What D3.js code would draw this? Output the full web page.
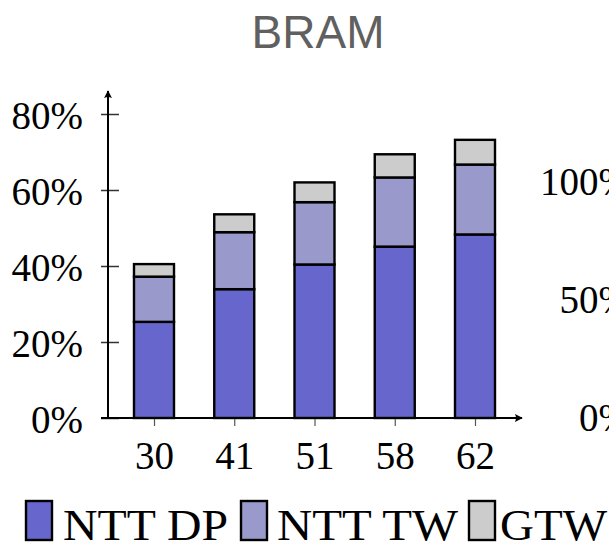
<!DOCTYPE html>
<html>
<head>
<meta charset="utf-8">
<script src="https://cdn.jsdelivr.net/npm/d3@7"></script>
<style>
  html, body { margin: 0; padding: 0; background: #fff; }
  svg { display: block; }
</style>
</head>
<body>
<svg id="chart" width="609" height="543"></svg>
<script>
// Bitwidth categories along the x axis
const categories = ["30", "41", "51", "58", "62"];
// BRAM utilisation (%) per component, stacked bottom to top
const nttDP = [25.3, 33.9, 40.4, 45.1, 48.3];
const nttTW = [11.9, 15.0, 16.4, 18.2, 18.4];
const gtw   = [3.3, 4.7, 5.2, 6.1, 6.5];
const seriesNames = ["NTT DP", "NTT TW", "GTW"];
const yTicks = [0, 20, 40, 60, 80];
// Labels of the neighbouring panel's axis, partly outside the page
const sideTicks = ["100%", "50%", "0%"];

const colors = ["#6666cc", "#9999cc", "#cccccc"];
const serifFont = '"Liberation Serif"';

const svg = d3.select("#chart");

const y = d3.scaleLinear().domain([0, 80]).range([418, 114]);
const x = d3.scalePoint().domain(categories).range([154, 475]);
const barW = 40;

const rows = categories.map((c, i) => ({ cat: c, "NTT DP": nttDP[i], "NTT TW": nttTW[i], "GTW": gtw[i] }));
const stacked = d3.stack().keys(seriesNames)(rows);

// Title
svg.append("text")
  .attr("x", 318).attr("y", 48)
  .attr("text-anchor", "middle")
  .style("font-family", '"Liberation Sans"')
  .style("font-size", "46px")
  .attr("fill", "#606060")
  .text("BRAM");

// Arrow marker
const defs = svg.append("defs");
defs.append("marker")
  .attr("id", "arrow")
  .attr("viewBox", "0 0 10 10")
  .attr("refX", 9).attr("refY", 5)
  .attr("markerWidth", 8).attr("markerHeight", 8)
  .attr("markerUnits", "userSpaceOnUse")
  .attr("orient", "auto")
  .append("path")
  .attr("d", "M0,0 Q3,5 0,10 L10,5 Z")
  .attr("fill", "#000");

// Bars
svg.append("g").selectAll("g")
  .data(stacked)
  .join("g")
  .attr("fill", (d, i) => colors[i])
  .selectAll("rect")
  .data(d => d)
  .join("rect")
  .attr("x", d => x(d.data.cat) - barW / 2)
  .attr("y", d => y(d[1]))
  .attr("width", barW)
  .attr("height", d => y(d[0]) - y(d[1]))
  .attr("stroke", "#000")
  .attr("stroke-width", 2.4);

// Y axis
const yAxis = d3.axisLeft(y)
  .tickValues(yTicks)
  .tickFormat(d => d + "%")
  .tickSizeInner(0)
  .tickSizeOuter(0)
  .tickPadding(0);

const gy = svg.append("g").attr("transform", "translate(108,0)").call(yAxis);
gy.select(".domain").remove();
gy.selectAll(".tick line")
  .attr("x1", -7).attr("x2", 11)
  .attr("stroke", "#333").attr("stroke-width", 1.5);
gy.selectAll(".tick text")
  .attr("x", -25)
  .attr("dy", "0.36em")
  .style("font-family", serifFont)
  .style("font-size", "39px")
  .attr("fill", "#000");

svg.append("line")
  .attr("x1", 108).attr("x2", 108)
  .attr("y1", 419).attr("y2", 91)
  .attr("stroke", "#000").attr("stroke-width", 2)
  .attr("marker-end", "url(#arrow)");

// X axis
const xAxis = d3.axisBottom(x).tickSizeInner(8).tickSizeOuter(0).tickPadding(4);
const gx = svg.append("g").attr("transform", "translate(0,418)").call(xAxis);
gx.select(".domain").remove();
gx.selectAll(".tick line").attr("stroke", "#555").attr("stroke-width", 1.2);
gx.selectAll(".tick text")
  .attr("y", 51)
  .attr("dy", 0)
  .style("font-family", serifFont)
  .style("font-size", "39px")
  .attr("fill", "#000");

svg.append("line")
  .attr("x1", 101).attr("x2", 522)
  .attr("y1", 418).attr("y2", 418)
  .attr("stroke", "#000").attr("stroke-width", 2)
  .attr("marker-end", "url(#arrow)");

// Neighbouring axis labels on the right edge
const sideY = d3.scalePoint().domain(sideTicks).range([195, 431]);
svg.append("g").selectAll("text")
  .data(sideTicks)
  .join("text")
  .attr("x", 631)
  .attr("y", d => sideY(d))
  .attr("text-anchor", "end")
  .style("font-family", serifFont)
  .style("font-size", "39px")
  .attr("fill", "#000")
  .text(d => d);

// Legend
const legendItems = [
  { name: seriesNames[0], bx: 26, tx: 63, tw: 165 },
  { name: seriesNames[1], bx: 241, tx: 277, tw: 181 },
  { name: seriesNames[2], bx: 469, tx: 500, tw: 107 }
];
const lg = svg.append("g");
lg.selectAll("rect")
  .data(legendItems)
  .join("rect")
  .attr("x", d => d.bx)
  .attr("y", 501)
  .attr("width", 26)
  .attr("height", 39)
  .attr("fill", (d, i) => colors[i])
  .attr("stroke", "#000")
  .attr("stroke-width", 2.4);
lg.selectAll("text")
  .data(legendItems)
  .join("text")
  .attr("x", d => d.tx)
  .attr("y", 540)
  .style("font-family", serifFont)
  .style("font-size", "44px")
  .attr("textLength", d => d.tw)
  .attr("lengthAdjust", "spacingAndGlyphs")
  .attr("fill", "#000")
  .text(d => d.name);
</script>
</body>
</html>
